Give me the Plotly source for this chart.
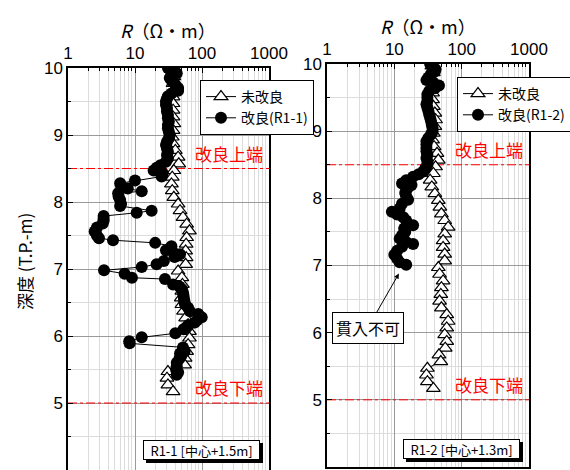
import math
import plotly.graph_objects as go

# ---------------- data ----------------
# R1-1 panel
l_tri_depth = [9.97, 9.87, 9.77, 9.67, 9.57, 9.47, 9.37, 9.27, 9.17, 9.07, 8.97, 8.87, 8.77, 8.67,
               8.57, 8.47, 8.37, 8.27, 8.17, 8.07, 7.97, 7.87, 7.77, 7.67, 7.57, 7.47, 7.37, 7.27,
               7.17, 7.07, 6.97, 6.87, 6.77, 6.67, 6.57, 6.47, 6.37, 6.27, 6.17, 6.07, 5.97, 5.87,
               5.77, 5.67, 5.57, 5.47, 5.37, 5.27, 5.17]
l_tri_R = [36, 38, 37, 38, 37, 37, 37, 37, 38, 37, 36, 37, 40, 44,
           45, 38, 36, 35, 36, 38, 44, 47, 52, 59, 65, 59, 58, 57,
           58, 57, 44, 50, 51, 50, 49, 50, 53, 57, 62, 65, 65, 62,
           59, 56, 55, 31, 30, 31, 37]

l_cir_depth = [10.00, 9.96, 9.92, 9.88, 9.85, 9.80, 9.75, 9.70, 9.66, 9.62, 9.58, 9.54, 9.50, 9.45,
               9.40, 9.35, 9.30, 9.25, 9.20, 9.15, 9.10, 9.05, 9.00, 8.95, 8.90, 8.85, 8.80, 8.75,
               8.70, 8.65, 8.60, 8.55, 8.51, 8.47, 8.43, 8.38, 8.32, 8.28, 8.24, 8.20, 8.16, 8.13,
               8.08, 8.03, 7.97, 7.94, 7.87, 7.84, 7.79, 7.75, 7.72, 7.68, 7.62, 7.56, 7.50, 7.46,
               7.43, 7.39, 7.34, 7.31, 7.28, 7.24, 7.22, 7.18, 7.12, 7.07, 7.03, 6.98, 6.93, 6.87,
               6.85, 6.77, 6.74, 6.70, 6.65, 6.60, 6.55, 6.50, 6.47, 6.42, 6.37, 6.33, 6.28, 6.24,
               6.20, 6.16, 6.13, 6.10, 6.04, 5.98, 5.92, 5.89, 5.83, 5.80, 5.77, 5.74, 5.70, 5.66,
               5.60, 5.55, 5.50, 5.46, 5.42]
l_cir_R = [31, 38, 42, 36, 33, 36, 40, 44, 44, 35, 31, 30, 29, 29,
           30, 30, 31, 31, 32, 31, 31, 32, 33, 32, 30, 29, 30, 31,
           30, 31, 29, 24, 21, 19, 26, 25, 10, 6.0, 6.2, 7.8, 12.6, 5.6,
           5.7, 6.0, 6.2, 6.0, 17.7, 10.6, 3.4, 3.4, 3.4, 3.3, 2.7, 2.5, 2.7, 2.9,
           4.7, 20, 35, 33, 29, 38, 47, 39, 27, 21, 12.6, 3.45, 7.0, 9.0,
           28, 37, 46, 50, 52, 53, 54, 55, 56, 62, 66, 88, 99, 85,
           78, 62, 59, 53, 40, 12.6, 8.2, 8.3, 52, 52, 55, 47, 49, 46,
           42, 42, 41, 44, 42]

# R1-2 panel
r_tri_depth = list(l_tri_depth)
r_tri_R = [36, 38, 37, 40, 37, 37, 38, 40, 41, 40, 38, 37, 39, 43,
           45, 41, 38, 34, 36, 40, 45, 47.5, 50, 56, 63, 56, 53, 53,
           56, 56, 45, 47, 53, 50, 49, 47, 50, 60, 63, 60, 56, 60,
           57, 46, 49, 31, 30, 31, 38]

r_cir_depth = [10.00, 9.96, 9.92, 9.89, 9.85, 9.80, 9.76, 9.72, 9.68, 9.64, 9.60, 9.55, 9.50, 9.45,
               9.40, 9.35, 9.30, 9.25, 9.20, 9.15, 9.10, 9.05, 9.00, 8.95, 8.90, 8.85, 8.80, 8.75,
               8.70, 8.65, 8.60, 8.55, 8.50, 8.45, 8.40, 8.36, 8.32, 8.27, 8.22, 8.20, 8.16, 8.12,
               8.08, 8.03, 7.98, 7.92, 7.85, 7.80, 7.76, 7.72, 7.67, 7.60, 7.55, 7.50, 7.45, 7.40,
               7.35, 7.32, 7.28, 7.22, 7.16, 7.10, 7.05, 7.01]
r_cir_R = [34, 37, 41, 40, 35, 32, 30, 38, 46, 40, 33, 31, 31, 31,
           30, 31, 32, 33, 34, 35, 36, 37, 37, 35, 32, 30, 30, 30,
           30, 31, 30, 31, 31, 29, 27, 23, 19, 15, 13, 18, 16, 15,
           14.5, 15, 16, 13, 12, 9.2, 11, 13.6, 15, 19, 14, 14.5, 13, 12,
           15, 19, 13, 11, 10, 11, 12, 15]

x_tickvals = [1, 10, 100, 1000]
x_ticktext = ["1", "10", "100", "1000"]
y_tickvals = [4, 5, 6, 7, 8, 9, 10]
y_ticktext = ["4", "5", "6", "7", "8", "9", "10"]
boundary_depths = [8.5, 5.0]
boundary_labels = ["改良上端", "改良下端"]
series_names = ["未改良", "改良(R1-1)", "改良(R1-2)"]
panel_labels = ["R1-1 [中心+1.5m]", "R1-2 [中心+1.3m]"]
note_text = "貫入不可"
note_point = (11.7, 6.88)

# ---------------- figure ----------------
W, H = 570, 470
FONT = "Liberation Sans, Arial, Noto Sans CJK JP, sans-serif"
JFONT = "Noto Sans CJK JP, Liberation Sans, sans-serif"

fig = go.Figure()

panels = [
    dict(xa="x", ya="y", tri=(l_tri_depth, l_tri_R), cir=(l_cir_depth, l_cir_R),
         name=series_names[1], legend="legend"),
    dict(xa="x2", ya="y2", tri=(r_tri_depth, r_tri_R), cir=(r_cir_depth, r_cir_R),
         name=series_names[2], legend="legend2"),
]

for p in panels:
    for d in boundary_depths:
        fig.add_trace(go.Scatter(
            x=[x_tickvals[0], x_tickvals[-1]], y=[d, d], mode="lines",
            xaxis=p["xa"], yaxis=p["ya"], showlegend=False, hoverinfo="skip",
            line=dict(color="red", width=1, dash="dashdot"),
        ))
for p in panels:
    fig.add_trace(go.Scatter(
        x=p["tri"][1], y=p["tri"][0], mode="lines+markers", name=series_names[0],
        xaxis=p["xa"], yaxis=p["ya"], legend=p["legend"],
        line=dict(color="black", width=1),
        marker=dict(symbol="triangle-up", size=12, color="white",
                    line=dict(color="black", width=1.2)),
    ))
    fig.add_trace(go.Scatter(
        x=p["cir"][1], y=p["cir"][0], mode="lines+markers", name=p["name"],
        xaxis=p["xa"], yaxis=p["ya"], legend=p["legend"],
        line=dict(color="black", width=1),
        marker=dict(symbol="circle", size=12, color="black"),
    ))

def xaxis_cfg(domain, anchor):
    return dict(
        type="log", range=[0, 3], domain=domain, anchor=anchor, side="top",
        tickvals=x_tickvals, ticktext=x_ticktext, automargin=False,
        tickfont=dict(size=17, family=FONT, color="black"),
        showline=True, linecolor="black", linewidth=1.5, mirror=True,
        ticks="inside", ticklen=5, tickcolor="black",
        showgrid=True, gridcolor="#9a9a9a", gridwidth=1,
        minor=dict(dtick="D1", showgrid=True, gridcolor="#dcdcdc", gridwidth=1,
                   ticks="inside", ticklen=3, tickcolor="black"),
        zeroline=False, fixedrange=True,
    )

def yaxis_cfg(domain, anchor):
    return dict(
        range=[4, 10], domain=domain, anchor=anchor, automargin=False,
        tickvals=y_tickvals, ticktext=y_ticktext,
        tickfont=dict(size=17, family=FONT, color="black"),
        showline=True, linecolor="black", linewidth=1.5, mirror=True,
        ticks="inside", ticklen=5, tickcolor="black",
        showgrid=True, gridcolor="#9a9a9a", gridwidth=1,
        minor=dict(dtick=0.5, showgrid=True, gridcolor="#dcdcdc", gridwidth=1,
                   ticks="inside", ticklen=3, tickcolor="black"),
        zeroline=False, fixedrange=True,
    )

legend_common = dict(xanchor="left", yanchor="top", bgcolor="white", bordercolor="black",
                     borderwidth=1, font=dict(size=14, family=JFONT), tracegroupgap=0,
                     itemwidth=30)

fig.update_layout(
    width=W, height=H,
    margin=dict(l=0, r=0, t=0, b=0, autoexpand=False),
    paper_bgcolor="white", plot_bgcolor="white",
    font=dict(family=FONT, color="black"),
    xaxis=xaxis_cfg([68 / W, 269 / W], "y"),
    yaxis=yaxis_cfg([0.0, 1 - 68 / H], "x"),
    xaxis2=xaxis_cfg([327 / W, 529 / W], "y2"),
    yaxis2=yaxis_cfg([1 - 467 / H, 1 - 64 / H], "x2"),
    legend=dict(x=200 / W, y=1 - 80 / H, **legend_common),
    legend2=dict(x=457 / W, y=1 - 77 / H, **legend_common),
    showlegend=True,
)

shapes = []
ann = []
# axis titles
for cx, cy in [(168, 30), (428, 26)]:
    ann.append(dict(text="<i>R</i>（Ω・m）", x=cx / W, y=1 - cy / H, xref="paper", yref="paper",
                    showarrow=False, font=dict(size=18, family=JFONT), xanchor="center", yanchor="middle"))
ann.append(dict(text="深度 (T.P.-m)", x=24 / W, y=1 - 262 / H, xref="paper", yref="paper",
                showarrow=False, textangle=-90, font=dict(size=17, family=JFONT),
                xanchor="center", yanchor="middle"))
# boundary labels
for xa, ya in [("x", "y"), ("x2", "y2")]:
    for d, lab in zip(boundary_depths, boundary_labels):
        ann.append(dict(text=lab, x=math.log10(x_tickvals[-1]), y=d, xref=xa, yref=ya, showarrow=False,
                        xanchor="right", yanchor="bottom", yshift=1, xshift=-4,
                        font=dict(size=17, color="red", family=JFONT)))
# panel labels with drop shadow
for (x0, y0), lab in zip([(143, 440), (403, 439)], panel_labels):
    bw, bh = 117, 20
    shapes.append(dict(type="rect", xref="paper", yref="paper", layer="above",
                       x0=(x0 + 3) / W, x1=(x0 + bw + 3) / W,
                       y0=1 - (y0 + bh + 3) / H, y1=1 - (y0 + 3) / H,
                       fillcolor="black", line=dict(width=0)))
    ann.append(dict(text=lab, x=(x0 + bw / 2) / W, y=1 - (y0 + bh / 2) / H, xref="paper", yref="paper",
                    xanchor="center", yanchor="middle",
                    showarrow=False, bgcolor="white", bordercolor="black", width=bw - 4, height=bh - 4,
                    borderwidth=1, borderpad=1, font=dict(size=13, family=JFONT, color="black")))
# note with arrow
ann.append(dict(text=note_text, x=math.log10(note_point[0]), y=note_point[1], xref="x2", yref="y2",
                showarrow=True, ax=-31, ay=54, arrowhead=2, arrowsize=1, arrowwidth=1,
                arrowcolor="black", bgcolor="white", bordercolor="black", borderwidth=1,
                borderpad=3, font=dict(size=16, family=JFONT, color="black")))
fig.update_layout(annotations=ann, shapes=shapes)

fig.write_html("out.html", config={"displayModeBar": False},
               post_script="document.body.style.margin='0';document.body.style.overflow='hidden';")
